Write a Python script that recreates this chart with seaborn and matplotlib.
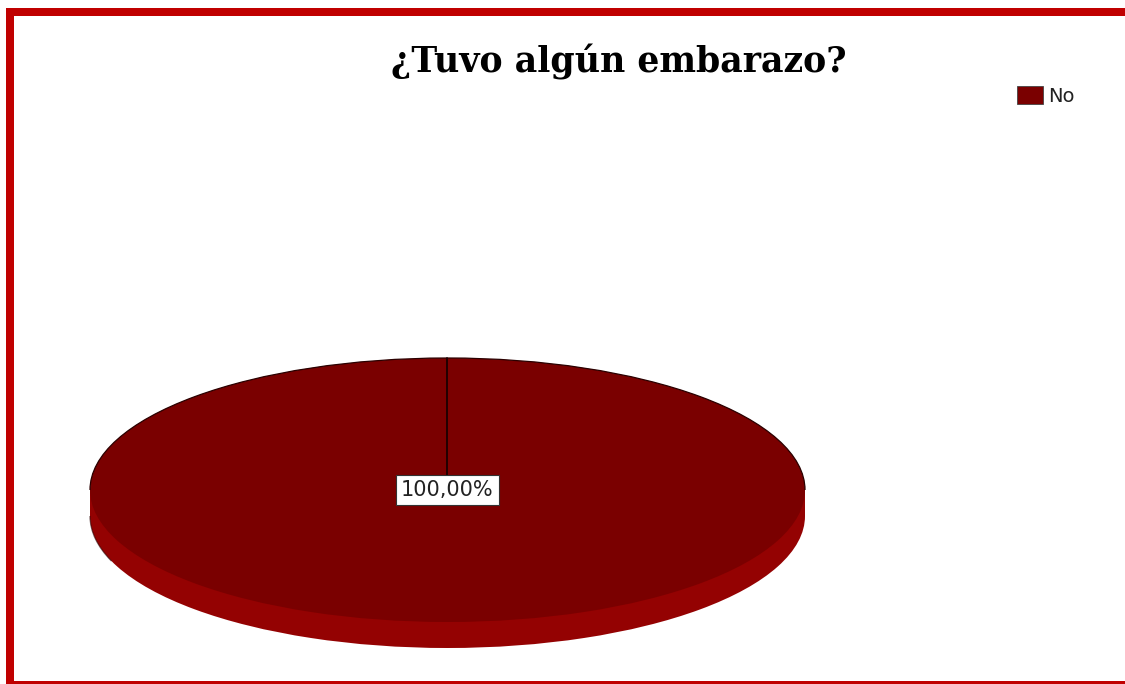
import matplotlib
matplotlib.use("Agg")
import matplotlib.pyplot as plt
from matplotlib.patches import Rectangle, Arc
import numpy as np
import seaborn as sns

# Survey answer shares
categories = ["No"]
values = [100.0]
title_text = "¿Tuvo algún embarazo?"

sns.set_theme(style="white")
plt.rcParams["font.family"] = ["DejaVu Sans"]

W, H = 1125, 684
fig = plt.figure(figsize=(W / 100, H / 100), dpi=100)
fig.patch.set_facecolor("white")

top_color = "#7a0000"
side_color = "#940202"
edge_color = "#2a0000"

# Pixel geometry of the tilted pie
cx_px, cy_px = 447.5, 194.0     # centre of top face (from bottom of figure)
rx_px, ry_px = 357.5, 132.0     # semi-axes of top face
depth_px = 26.0

ax = fig.add_axes([0, 0, 1, 1])
ax.set_facecolor("none")

depth = depth_px / ry_px
palette_top = sns.color_palette([top_color])
palette_side = sns.color_palette([side_color])

# Side band of the disc: a lower copy of the pie plus the strip between faces
ax.pie(values, colors=palette_side, startangle=90, counterclock=False,
       center=(0, -depth), radius=1.0, frame=True,
       wedgeprops=dict(linewidth=0))
ax.add_patch(Rectangle((-1, -depth), 2, depth, facecolor=side_color,
                       edgecolor="none", zorder=0.5))

# Top face
wedges, texts, autotexts = ax.pie(
    values, colors=palette_top, startangle=90, counterclock=False,
    center=(0, 0), radius=1.0, frame=True,
    autopct=lambda p: f"{p:.2f}".replace(".", ",") + "%", pctdistance=0.0,
    wedgeprops=dict(linewidth=0),
    textprops=dict(fontsize=15, color="#222222"))
for w in wedges:
    w.set_zorder(2)

# Dark rim along the back edge of the top face
ax.add_patch(Arc((0, 0), 2, 2, theta1=0, theta2=180, color=edge_color,
                 lw=0.9, zorder=3))
ax.add_patch(Arc((0, -depth), 2, 2, theta1=180, theta2=200, color=edge_color,
                 lw=0.9, alpha=0.6, zorder=1))

# Radial separator at the starting angle of the slice
ang = np.deg2rad(90)
ax.plot([0, np.cos(ang)], [0, np.sin(ang)], color="#1a0000", lw=1.3, zorder=3)

for t in autotexts:
    t.set_zorder(5)
    t.set_bbox(dict(boxstyle="square,pad=0.25", facecolor="white",
                    edgecolor="#333333", linewidth=0.8))

ax.set_aspect("auto")
ax.set_xlim(-cx_px / rx_px, (W - cx_px) / rx_px)
ax.set_ylim(-cy_px / ry_px, (H - cy_px) / ry_px)
ax.set_xticks([])
ax.set_yticks([])
for s in ax.spines.values():
    s.set_visible(False)

# Title
fig.text(619 / W, 1 - 62 / H, title_text, ha="center", va="center",
         fontsize=25, fontweight="bold", family=["DejaVu Serif"],
         color="black")

# Legend
leg = fig.legend(handles=[Rectangle((0, 0), 1, 1, facecolor=top_color,
                                    edgecolor="#444444", linewidth=0.6)],
                 labels=categories, loc="center left",
                 bbox_to_anchor=(1017 / W, 1 - 96 / H), frameon=False,
                 fontsize=14, handlelength=1.35, handleheight=1.0,
                 handletextpad=0.25, borderpad=0, borderaxespad=0)
for t in leg.get_texts():
    t.set_color("#222222")

# Red frame around the chart
frame_red = "#c00000"
fig.add_artist(Rectangle((6 / W, 1 - 16 / H), (W - 6) / W, 8 / H,
                         transform=fig.transFigure, facecolor=frame_red,
                         edgecolor="none"))
fig.add_artist(Rectangle((6 / W, 0), 8 / W, 1 - 8 / H,
                         transform=fig.transFigure, facecolor=frame_red,
                         edgecolor="none"))
fig.add_artist(Rectangle((6 / W, 0), (W - 6) / W, 3 / H,
                         transform=fig.transFigure, facecolor=frame_red,
                         edgecolor="none"))

fig.savefig("out.png", dpi=100, facecolor="white")
